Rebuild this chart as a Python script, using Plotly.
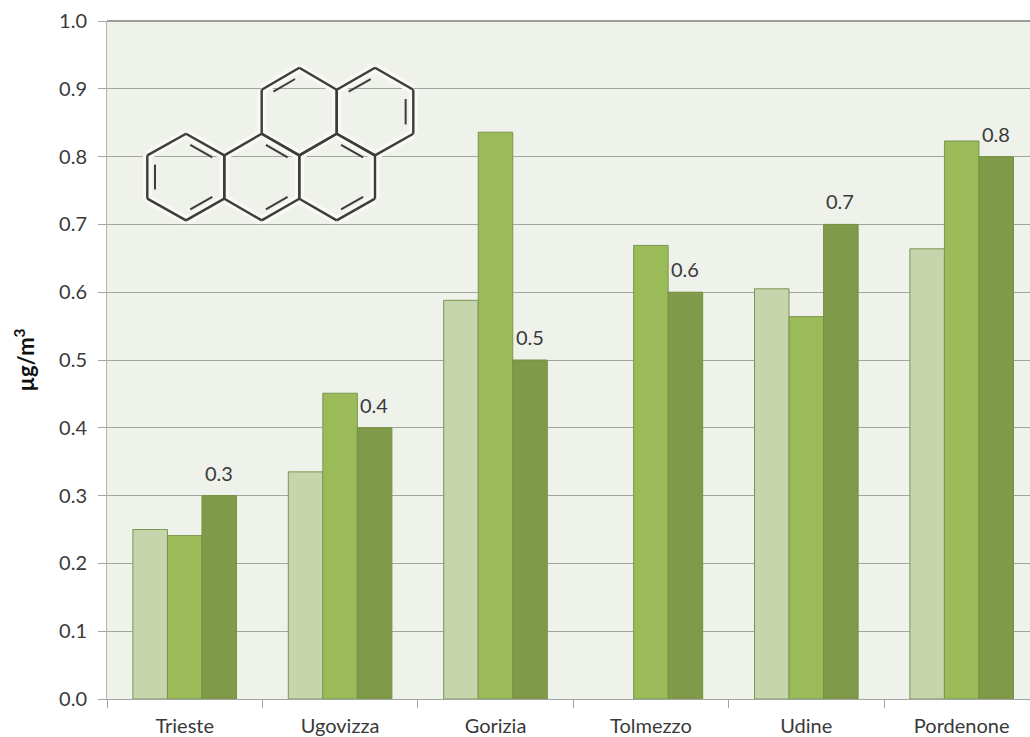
import plotly.graph_objects as go

# Benzo[a]pyrene concentration by monitoring site, three consecutive periods
sites = ["Trieste", "Ugovizza", "Gorizia", "Tolmezzo", "Udine", "Pordenone"]
period_a = [0.25, 0.335, 0.588, None, 0.605, 0.664]
period_b = [0.241, 0.451, 0.836, 0.669, 0.564, 0.823]
period_c = [0.3, 0.4, 0.5, 0.6, 0.7, 0.8]

y_ticks = [i / 10 for i in range(11)]

FONT = "Lato"
TEXT = "#3a3a3a"
GRID = "#a3a5a0"
W, H = 1030, 737
LEFT, RIGHT, TOP, BOTTOM = 107, 1030, 20.5, 699
CAT_WIDTH = 155.4
BAR_WIDTH = CAT_WIDTH / 4.5

fig = go.Figure()
for values, fill in ((period_a, "#c6d5ab"), (period_b, "#9bbb59")):
    fig.add_bar(x=sites, y=values, marker=dict(color=fill, line=dict(color="#7b9650", width=1)))
fig.add_bar(x=sites, y=period_c, marker=dict(color="#7f9a48", line=dict(color="#76913f", width=1)))

# Value labels above the third bar of each group
value_labels = [
    dict(x=s, y=v, text=f"{v:.1f}", showarrow=False, xanchor="center", yanchor="bottom",
         xshift=BAR_WIDTH - 0.5, yshift=9, font=dict(family=FONT, size=20, color=TEXT))
    for s, v in zip(sites, period_c)
]

# Skeletal formula of benzo[a]pyrene: five fused hexagons on a pixel lattice
lat_x = [147.3, 186, 224.3, 261.7, 299.3, 336.7, 375, 413.3]
lat_y = [67.3, 89.3, 133.3, 155, 198.3, 220]
rings = [
    [(0, 3), (1, 2), (2, 3), (2, 4), (1, 5), (0, 4)],
    [(2, 3), (3, 2), (4, 3), (4, 4), (3, 5), (2, 4)],
    [(3, 1), (4, 0), (5, 1), (5, 2), (4, 3), (3, 2)],
    [(5, 1), (6, 0), (7, 1), (7, 2), (6, 3), (5, 2)],
    [(4, 3), (5, 2), (6, 3), (6, 4), (5, 5), (4, 4)],
]
# (ring index, edge index) of every inner line of a double bond
double_bonds = [(0, 5), (0, 1), (0, 3), (1, 1), (1, 3), (2, 0),
                (3, 0), (3, 2), (4, 1), (4, 3)]
INSET = 0.2
TRIM = 0.14


def to_paper(px, py):
    return (px - LEFT) / (RIGHT - LEFT), (BOTTOM - py) / (BOTTOM - TOP)


def segment(p, q, colour, width):
    x0, y0 = to_paper(*p)
    x1, y1 = to_paper(*q)
    return dict(type="line", xref="paper", yref="paper", x0=x0, y0=y0, x1=x1, y1=y1,
                line=dict(color=colour, width=width), layer="above")


def ring_points(ring):
    return [(lat_x[i], lat_y[j]) for i, j in ring]


outer_edges = []
for ring in rings:
    pts = ring_points(ring)
    outer_edges += [(pts[k], pts[(k + 1) % 6]) for k in range(6)]

inner_edges = []
for r, e in double_bonds:
    pts = ring_points(rings[r])
    cx = sum(p[0] for p in pts) / 6
    cy = sum(p[1] for p in pts) / 6
    a, b = pts[e], pts[(e + 1) % 6]
    a2 = (a[0] + (cx - a[0]) * INSET, a[1] + (cy - a[1]) * INSET)
    b2 = (b[0] + (cx - b[0]) * INSET, b[1] + (cy - b[1]) * INSET)
    dx, dy = b2[0] - a2[0], b2[1] - a2[1]
    inner_edges.append(((a2[0] + dx * TRIM, a2[1] + dy * TRIM),
                        (b2[0] - dx * TRIM, b2[1] - dy * TRIM)))

shapes = []
for p, q in outer_edges:
    shapes.append(segment(p, q, "#f8f9f5", 9))
for p, q in outer_edges:
    shapes.append(segment(p, q, "#3c3c3c", 2.4))
for p, q in inner_edges:
    shapes.append(segment(p, q, "#3c3c3c", 2))
# Darker rule along the top of the plot area
shapes.append(dict(type="line", xref="paper", yref="paper", x0=0, x1=1, y0=1, y1=1,
                   line=dict(color="#7d7f7b", width=1.5), layer="above"))

fig.update_layout(
    width=W, height=H,
    margin=dict(l=LEFT, r=W - RIGHT, t=TOP, b=H - BOTTOM, autoexpand=False),
    paper_bgcolor="white",
    plot_bgcolor="#eff2ea",
    barmode="group",
    bargap=1 / 3,
    bargroupgap=0,
    showlegend=False,
    shapes=shapes,
    annotations=value_labels,
    font=dict(family=FONT, size=20, color=TEXT),
    xaxis=dict(
        type="category",
        categoryorder="array",
        categoryarray=sites,
        range=[-0.5, -0.5 + (RIGHT - LEFT) / CAT_WIDTH],
        tickson="boundaries",
        ticks="outside",
        ticklen=8,
        tickcolor=GRID,
        showline=True,
        linecolor=GRID,
        linewidth=1,
        showgrid=False,
        ticklabelstandoff=9,
        tickfont=dict(family=FONT, size=20, color=TEXT),
    ),
    yaxis=dict(
        range=[0, 1],
        tickvals=y_ticks,
        ticktext=[f"{v:.1f}" for v in y_ticks],
        ticks="outside",
        ticklen=8,
        tickcolor=GRID,
        showline=True,
        linecolor="#b4b6b2",
        linewidth=1,
        showgrid=True,
        gridcolor=GRID,
        gridwidth=1,
        zeroline=False,
        ticklabelstandoff=7,
        tickfont=dict(family=FONT, size=20, color=TEXT),
        title=dict(
            text="<b>µg/m<sup>3</sup></b>",
            font=dict(family=FONT, size=22, color="#111111"),
            standoff=18,
        ),
    ),
)

fig.write_html("out.html")
